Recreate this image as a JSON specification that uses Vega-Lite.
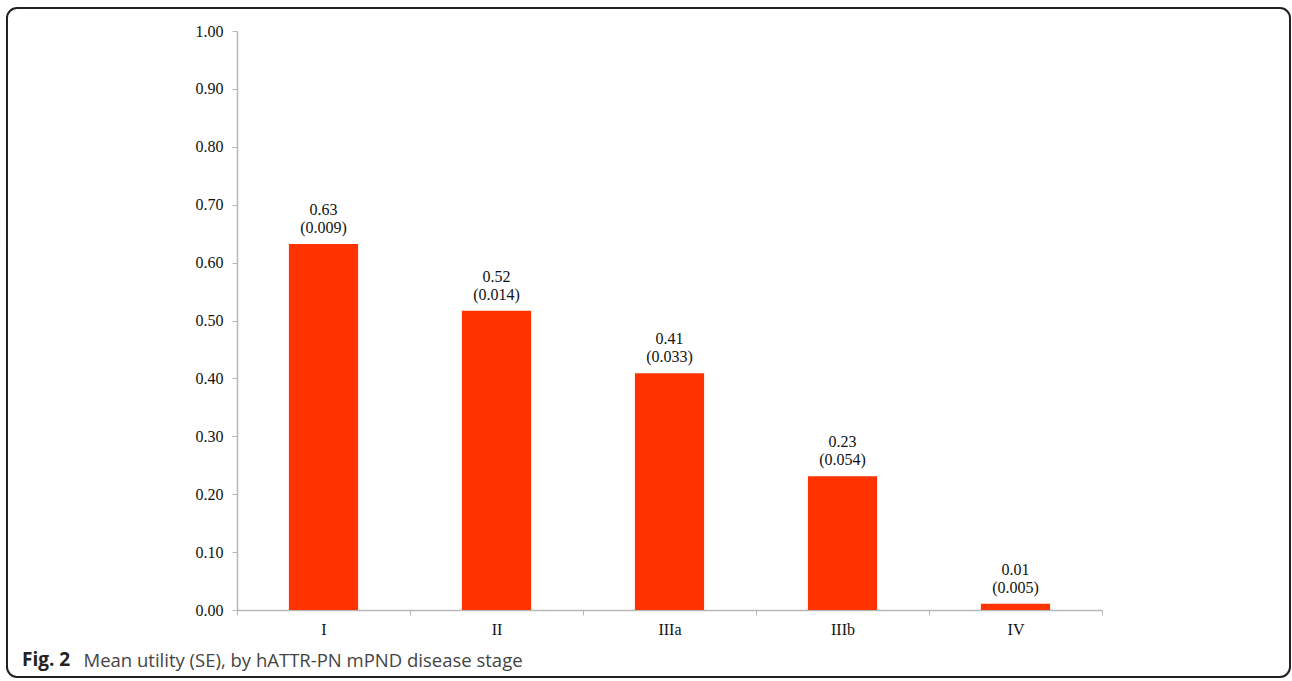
{
  "$schema": "https://vega.github.io/schema/vega-lite/v6.json",
  "autosize": {"type": "none"},
  "padding": {"left": 7, "top": 8, "right": 2, "bottom": 4},
  "width": 1283,
  "height": 669,
  "background": "white",
  "config": {
    "view": {"stroke": "#222222", "strokeWidth": 2, "cornerRadius": 10}
  },
  "title": {
    "text": "Fig. 2",
    "orient": "bottom",
    "anchor": "start",
    "frame": "group",
    "font": "Open Sans",
    "fontSize": 19,
    "fontWeight": "bold",
    "color": "#222222",
    "baseline": "alphabetic",
    "offset": -11,
    "dx": 15
  },
  "data": {
    "values": [
      {"stage": "I", "utility": 0.632, "label": "0.63\n(0.009)"},
      {"stage": "II", "utility": 0.517, "label": "0.52\n(0.014)"},
      {"stage": "IIIa", "utility": 0.409, "label": "0.41\n(0.033)"},
      {"stage": "IIIb", "utility": 0.231, "label": "0.23\n(0.054)"},
      {"stage": "IV", "utility": 0.011, "label": "0.01\n(0.005)"}
    ]
  },
  "encoding": {
    "x": {
      "field": "stage",
      "type": "nominal",
      "sort": null,
      "scale": {"range": [230, 1095], "paddingInner": 0, "paddingOuter": 0},
      "axis": {
        "title": "Mean utility (SE), by hATTR-PN mPND disease stage",
        "titleX": 76,
        "titleY": 56,
        "titleAlign": "left",
        "titleBaseline": "alphabetic",
        "titleFont": "Open Sans",
        "titleFontSize": 18.5,
        "titleFontWeight": "normal",
        "titleColor": "#444444",
        "offset": -67,
        "labelAngle": 0,
        "labelFont": "Liberation Serif",
        "labelFontSize": 16,
        "labelColor": "#111111",
        "labelPadding": 6,
        "tickBand": "extent",
        "tickSize": 5,
        "tickColor": "#b8b8b8",
        "domainColor": "#b8b8b8",
        "domainWidth": 1.5,
        "grid": false
      }
    },
    "y": {
      "field": "utility",
      "type": "quantitative",
      "scale": {"domain": [0, 1], "range": [602, 23], "nice": false, "zero": true},
      "axis": {
        "title": null,
        "offset": -230,
        "values": [0, 0.1, 0.2, 0.3, 0.4, 0.5, 0.6, 0.7, 0.8, 0.9, 1.0],
        "format": ".2f",
        "labelFont": "Liberation Serif",
        "labelFontSize": 16,
        "labelColor": "#111111",
        "labelPadding": 9,
        "tickSize": 5,
        "tickColor": "#b8b8b8",
        "domainColor": "#b8b8b8",
        "domainWidth": 1.5,
        "grid": false
      }
    }
  },
  "layer": [
    {
      "mark": {"type": "bar", "color": "#FF3300", "width": {"band": 0.4}}
    },
    {
      "mark": {
        "type": "text",
        "lineBreak": "\n",
        "baseline": "bottom",
        "align": "center",
        "dy": -26,
        "lineHeight": 18,
        "font": "Liberation Serif",
        "fontSize": 16,
        "color": "#111111"
      },
      "encoding": {"text": {"field": "label"}}
    }
  ]
}
